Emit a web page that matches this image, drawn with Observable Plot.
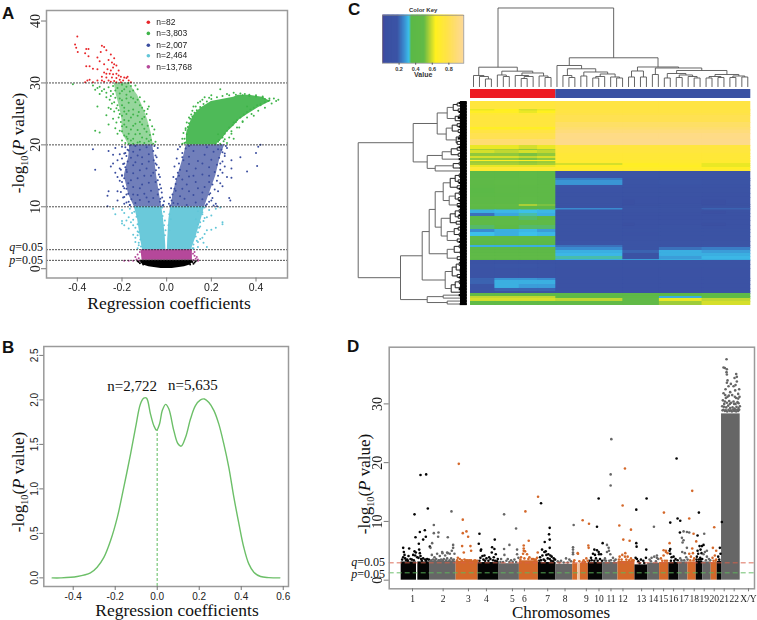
<!DOCTYPE html>
<html><head><meta charset="utf-8">
<script src="https://cdn.jsdelivr.net/npm/d3@7"></script>
<script src="https://cdn.jsdelivr.net/npm/@observablehq/plot@0.6"></script>
<style>
html,body{margin:0;background:#fff}
#c{position:relative;width:757px;height:620px;overflow:hidden;background:#fff}
.t{position:absolute;white-space:nowrap;color:#111;line-height:1}
.s{font-family:"Liberation Serif",serif}
sub{font-size:.6em;line-height:0}
</style></head><body><div id="c"></div>
<script>
// ---------- Panel A values
const volcanoLegend = ["n=82","n=3,803","n=2,007","n=2,464","n=13,768"];
const volcanoColors = ["#e8262a","#3fb44a","#3a4d9f","#62c6d8","#b5489a"];
const legendY = [39.8,38,36.1,34.4,32.6];
const thresholds = [30,20,10,3.07,1.35];
const redPts = [[-.40,37.5],[-.41,36.2],[-.405,35.7],[-.398,35],[-.36,35.5],[-.35,35.5],[-.365,34.8],[-.35,34.3],[-.29,36],[-.28,35.8],[-.27,35.3],[-.295,35],[-.25,34.6],[-.31,34.1],[-.3,33.5],[-.235,34],[-.26,33.7],[-.245,33.3],[-.28,33],[-.235,33],[-.225,32.8],[-.36,32.7],[-.345,32.7],[-.265,32.2],[-.24,32.5],[-.215,32],[-.33,32.3],[-.31,32.2],[-.25,32],[-.225,31.5],[-.28,31.7],[-.27,31.5],[-.255,31.5],[-.24,31.4],[-.215,31.2],[-.29,31],[-.27,30.9],[-.245,30.9],[-.225,30.8],[-.205,31],[-.19,30.9],[-.18,30.8],[-.175,31],[-.31,30.4],[-.29,30.4],[-.26,30.4],[-.235,30.3],[-.21,30.5],[-.195,30.4],[-.17,30.4],[-.355,30.4],[-.345,30.5],[-.25,30.2],[-.225,30.1],[-.205,30.1],[-.16,30.1],[-.33,30.1],[-.365,30.1],[-.28,30.2]];
const greenLeftPts = [[-.42,29.8],[-.33,29.6],[-.31,29.2],[-.3,29.4],[-.32,28.9],[-.29,28.7],[-.3,28.2],[-.28,29],[-.27,28.4],[-.26,29.3],[-.25,28.7],[-.27,27.7],[-.255,27.3],[-.24,28.2],[-.23,27.6],[-.245,26.7],[-.22,26.4],[-.25,25.8],[-.235,25.4],[-.21,25],[-.26,26],[-.31,26.2],[-.27,24.8],[-.24,24.2],[-.225,23.6],[-.215,24.4],[-.32,22.3],[-.3,22],[-.26,23.3],[-.23,22.7],[-.21,22.3],[-.2,23],[-.19,21.5],[-.22,21.8],[-.2,20.7],[-.175,21],[-.185,20.3],[-.17,20.2],[-.08,26.2],[-.085,25.8],[-.09,25],[-.1,24.5],[-.06,21.7],[-.055,22.5],[-.065,23],[-.05,20.5],[-.06,20.2],[-.075,24],[-.11,26],[-.1,27],[-.13,29],[-.15,28.8],[-.17,30],[-.12,27.7],[-.14,29.6],[-.16,29.5],[-.2,29.7],[-.22,29.2],[-.19,29],[-.21,28.3],[-.18,28.1],[-.16,27.7],[-.2,27.2],[-.17,26.8],[-.14,26.9],[-.19,26],[-.15,25.7],[-.125,25.3],[-.18,25],[-.16,24.4],[-.11,24.2],[-.19,24],[-.14,23.4],[-.18,22.9],[-.16,22.5],[-.1,22.6],[-.12,21.8],[-.17,21.8],[-.15,21],[-.09,21],[-.13,20.4],
[-.24,29.5],[-.23,28.8],[-.25,27.9],[-.21,27.5],[-.235,26.9],[-.2,26.4],[-.225,25.9],[-.19,25.4],[-.215,25.6],[-.17,25.5],[-.2,24.7],[-.15,24.9],[-.13,24.7],[-.205,23.7],[-.17,23.9],[-.12,23.7],[-.19,23.3],[-.15,23.1],[-.11,23.3],[-.085,23.1],[-.2,22.2],[-.13,22.4],[-.09,22.1],[-.075,21.6],[-.18,21.3],[-.14,21.7],[-.11,21.2],[-.07,20.8],[-.16,20.7],[-.12,20.5],[-.15,20.2],[-.1,20.3],[-.08,20.6],[-.18,29.4],[-.15,27.5],[-.13,27.3],[-.18,27.5],[-.165,28.6],[-.2,28.7],[-.12,26.4],[-.1,25.5]];
const greenRightPts = [[.5,27.3],[.49,27.1],[.48,27.5],[.47,26.7],[.46,27.2],[.44,26],[.43,27.8],[.41,25.5],[.4,28],[.38,25],[.37,28.1],[.35,28.2],[.33,28.3],[.3,28.4],[.24,29],[.27,28.2],[.2,28],[.19,27.6],[.17,27.7],[.15,27],[.12,26.2],[.115,25.5],[.11,24.9],[.1,24.4],[.09,23.6],[.085,22.7],[.075,21.9],[.07,21],[.08,20.3],[.07,20.2],[.36,24.4],[.34,23.8],[.31,23.7],[.325,22.8],[.29,22.2],[.28,21.2],[.255,20.6],[.24,20.2],[.3,21],[.27,20.3],[.39,24.7],[.23,21.7],[.36,26.2],[.42,26.4],[.44,27.4],
[.22,20.2],[.235,20.8],[.25,21.2],[.26,21.8],[.27,22.3],[.28,22.8],[.295,23.2],[.3,23.6],[.315,24],[.33,24.4],[.345,24.9],[.36,25.3],[.375,25.7],[.39,26],[.405,26.4],[.42,26.6],[.44,26.9],[.455,27.1],[.23,20.5],[.26,20.9],[.29,21.8],[.315,22.8],[.34,23.7],[.085,20.4],[.08,21],[.09,21.7],[.085,22.4],[.095,22.9],[.1,23.5],[.105,24.2],[.115,24.6],[.125,25.2],[.135,25.6],[.15,26.1],[.165,26.6],[.18,27],[.2,27.4],[.225,27.7],[.25,27.9],[.28,28],[.31,28.1],[.34,28],[.37,27.9],[.4,27.8],[.43,27.6],[.46,27.5],[.13,26.2],[.14,26.8],[.16,27.3]];
const blueLeftPts = [[-.33,19.3],[-.32,16],[-.26,19],[-.24,18.4],[-.23,19.5],[-.24,17],[-.22,17.5],[-.21,18.5],[-.25,16.5],[-.23,15.5],[-.21,16.2],[-.2,15],[-.22,14.8],[-.2,14],[-.26,12.5],[-.265,11.8],[-.22,12.5],[-.19,13],[-.195,11.5],[-.22,11],[-.265,10.1],[-.18,12],[-.17,10.8],[-.165,10.3],[-.19,10.5],[-.2,19.7],[-.19,18.6],[-.19,17],[-.175,19.2],[-.18,16],[-.04,19.5],[-.045,18],[-.035,16.3],[-.03,14.8],[-.025,13],[-.02,11.5],[-.015,10.3],[-.05,17],[-.06,15.5],[-.05,14],[-.04,12],[-.03,10.8],[-.1,15],[-.14,17.2],[-.12,13],[-.09,11.5],[-.15,12],[-.11,18],
[-.165,10.3],[-.18,10.7],[-.158,11.2],[-.19,11.6],[-.172,12.1],[-.205,12.4],[-.18,12.9],[-.195,13.3],[-.172,13.8],[-.21,14.2],[-.19,14.6],[-.2,15.1],[-.178,15.6],[-.205,16],[-.185,16.4],[-.195,16.9],[-.175,17.3],[-.2,17.8],[-.18,18.2],[-.185,18.7],[-.17,19.1],[-.185,19.6],[-.165,19.9],[-.018,10.2],[-.012,10.9],[-.028,11.3],[-.022,12.3],[-.035,12.8],[-.03,13.6],[-.04,14.3],[-.035,15.2],[-.048,15.9],[-.045,16.8],[-.058,17.5],[-.05,18.3],[-.06,19],[-.055,19.8],
[-.14,10.6],[-.12,11.1],[-.08,10.8],[-.06,11.4],[-.13,11.9],[-.1,12.1],[-.07,12.6],[-.15,13.2],[-.11,13.6],[-.08,13.9],[-.16,14.3],[-.13,14.6],[-.07,15],[-.15,15.4],[-.12,15.9],[-.09,16.2],[-.15,16.7],[-.11,16.9],[-.08,17.3],[-.16,17.9],[-.13,18.3],[-.08,18.5],[-.15,18.9],[-.12,19.2],[-.09,19.6],[-.14,19.8]];
const blueRightPts = [[.42,20],[.41,19.7],[.4,18.7],[.405,16.6],[.36,15.7],[.33,18],[.29,17.5],[.29,16.2],[.29,14.7],[.27,14.8],[.28,11.4],[.285,11],[.27,19.5],[.26,18.2],[.26,16.5],[.25,15.5],[.24,13.8],[.23,12.5],[.22,10.5],[.21,10.2],[.225,10.1],[.2,11],[.23,19.3],[.25,18.8],[.24,17],[.25,13.3],[.19,12],[.18,10.4],[.05,19.3],[.06,19.7],[.045,17.8],[.035,16.5],[.03,14.8],[.02,13],[.015,11.5],[.01,10.5],[.05,15.5],[.04,12.6],[.03,10.6],[.07,18],[.12,15],[.16,17],[.1,12.5],[.14,13],[.19,15],[.08,11.3],
[.175,10.2],[.19,10.8],[.205,11.4],[.195,12.2],[.215,12.8],[.205,13.6],[.225,14.2],[.23,15],[.215,15.6],[.24,16],[.225,16.8],[.25,17.3],[.235,17.9],[.26,18.6],[.245,19.2],[.265,19.8],[.016,10.2],[.022,11],[.026,12],[.035,12.9],[.04,13.7],[.042,14.5],[.055,15],[.06,16],[.055,17],[.075,17.5],[.07,18.7],[.085,19.4],
[.05,10.5],[.09,10.3],[.13,10.7],[.16,11.2],[.06,11.7],[.12,11.9],[.16,12.3],[.07,12.9],[.17,13.2],[.09,13.6],[.13,14],[.19,14],[.07,14.4],[.1,14.9],[.16,15.2],[.09,15.8],[.13,16.2],[.19,16.4],[.1,16.9],[.14,17.4],[.2,17.6],[.1,18.1],[.17,18.4],[.21,18.9],[.12,19],[.18,19.6],[.1,19.8]];
const cyanPts = [[-.24,9.7],[-.23,8.8],[-.2,9.5],[-.19,9],[-.2,7.7],[-.2,7.3],[-.19,7],[-.18,7.8],[-.17,8.3],[-.17,6.5],[-.16,7.5],[-.15,7],[-.15,5.5],[-.14,5],[-.14,4.3],[-.13,6],[-.125,3.8],[-.13,8.5],[-.145,9.2],[-.13,3.3],[-.165,9.7],[.19,9.5],[.2,8.6],[.18,8.3],[.165,7.7],[.22,9.7],[.24,9.9],[.25,7.5],[.25,7.2],[.22,6.6],[.2,6.3],[.18,6.2],[.17,5.6],[.16,5],[.15,4.8],[.14,4.3],[.14,3.5],[.18,3.5],[.165,4.2],[.15,6.8],[.14,7.2],[.13,8],[.16,8.8],[.14,9.3],[.12,3.3],
[-.14,9.9],[-.155,9],[-.135,8.4],[-.15,7.9],[-.13,7.2],[-.14,6.6],[-.125,5.9],[-.13,5.4],[-.118,4.7],[-.125,4.2],[-.115,3.6],[-.02,9.9],[-.012,9.2],[-.018,8.5],[-.008,7.8],[-.012,7],[-.005,6.2],[-.008,5.4],[.02,9.7],[.012,8.8],[.018,8],[.008,7],[.012,6.2],[.17,9.9],[.16,9.1],[.17,8.2],[.15,7.5],[.145,6.6],[.14,5.9],[.13,5.2],[.135,4.5],[.12,3.9],[.115,3.3]];
const magentaPts = [[-.19,1.3],[-.17,1.3],[-.15,1.3],[-.14,1.9],[-.135,1.5],[-.13,2.3],[-.125,1.7],[-.12,2.7],[-.125,1.3],[.125,2.7],[.125,2.1],[.13,1.6],[.135,1.9],[.14,1.5],[.14,1.3],[.12,1.4],[.118,2.4]];
const blackPts = [[-.125,1.1],[-.12,.9],[-.11,1.05],[-.105,.7],[.125,1],[.12,.8],[.115,1.1],[.105,.7],[.13,1.2],[-.13,1.2]];
const greenLeftBand = [[20,-.17,-.06],[22,-.2,-.07],[24,-.2,-.085],[26,-.21,-.105],[28,-.225,-.13],[30,-.235,-.17]];
const greenRightBand = [[20,.09,.22],[21,.088,.25],[22,.09,.27],[23,.1,.3],[24,.11,.325],[25,.125,.365],[26,.155,.41],[27,.2,.465],[27.7,.3,.43],[28,.32,.37]];
const blueLeftBand = [[10,-.145,-.022],[12,-.17,-.032],[15,-.19,-.045],[18,-.17,-.055],[20,-.165,-.062]];
const blueRightBand = [[10,.02,.17],[12,.028,.19],[15,.05,.22],[18,.075,.24],[20,.088,.26]];
const cyanLeftBand = [[3,-.108,-.003],[5,-.118,-.006],[8,-.13,-.014],[10,-.145,-.022]];
const cyanRightBand = [[3,.003,.11],[5,.005,.13],[8,.01,.155],[10,.018,.17]];
const magentaBand = [[1.35,-.11,.115],[3.07,-.115,.115]];
const blackBand = [[.05,-.025,.025],[.3,-.08,.08],[.6,-.105,.105],[.95,-.115,.115],[1.35,-.12,.12]];
// ---------- Panel B values
const densityX = [-.5,-.46,-.381,-.318,-.286,-.254,-.222,-.19,-.159,-.127,-.103,-.08,-.064,-.051,-.032,-.016,-.003,.011,.024,.04,.055,.079,.098,.114,.135,.159,.182,.206,.225,.246,.27,.293,.317,.341,.365,.389,.412,.436,.46,.492,.531,.584];
const densityY = [0,0,.015,.056,.12,.23,.42,.68,1.02,1.39,1.69,1.955,2.02,2.02,1.84,1.71,1.66,1.73,1.88,1.95,1.9,1.655,1.51,1.48,1.58,1.79,1.935,2,2.01,1.97,1.88,1.73,1.505,1.24,.905,.607,.344,.157,.063,.015,.003,0];
// ---------- Panel C values
const colEdges = [0,4,8,11,14,25,31,38,46];
const rowStarts = [0,8,9.5,12,14,21,26,28.5,32,38,44,48,49,52,55,57,59,60,62,64,66,68,70,77,79,84,87,92,96,103,105,107,108.5,112,115,119,124,128,131,135,140,144,146,149,152,155,158,159,163,167,177,179,183,187,190,192,195,197,200,204];
const heatValues = [
[.74,.74,.74,.74,.76,.76,.76,.76],[.62,.64,.6,.62,.76,.76,.76,.76],[.66,.66,.62,.64,.76,.76,.76,.76],[.72,.72,.72,.72,.78,.78,.78,.78],[.74,.74,.74,.74,.8,.8,.8,.8],[.74,.74,.74,.74,.85,.85,.85,.85],[.66,.66,.66,.66,.87,.87,.87,.87],[.76,.76,.76,.76,.9,.9,.9,.9],[.8,.8,.8,.8,.93,.93,.93,.93],[.88,.88,.88,.88,.94,.94,.94,.94],
[.62,.62,.6,.62,.74,.74,.74,.74],[.56,.56,.54,.56,.74,.74,.74,.74],[.6,.58,.6,.58,.74,.74,.74,.74],[.54,.54,.52,.54,.72,.72,.72,.72],[.6,.6,.58,.6,.72,.72,.72,.72],[.54,.54,.52,.54,.72,.72,.72,.72],[.66,.66,.66,.66,.7,.7,.7,.7],[.55,.55,.54,.55,.7,.7,.7,.7],[.56,.56,.55,.56,.6,.66,.68,.62],[.62,.62,.62,.62,.66,.66,.66,.62],[.72,.72,.72,.72,.68,.68,.68,.66],[.7,.7,.7,.7,.7,.7,.7,.7],
[.42,.42,.44,.42,.14,.14,.12,.12],[.43,.44,.44,.43,.24,.14,.14,.13],[.42,.43,.44,.42,.27,.16,.17,.16],[.4,.42,.42,.42,.17,.13,.13,.13],[.35,.42,.42,.42,.13,.11,.11,.11],[.36,.4,.42,.42,.12,.11,.11,.1],[.42,.42,.43,.42,.11,.1,.1,.1],[.46,.5,.56,.52,.13,.08,.12,.08],[.42,.43,.42,.42,.12,.11,.11,.11],[.42,.4,.42,.42,.26,.14,.14,.2],[.3,.31,.32,.31,.11,.11,.11,.11],[.22,.29,.33,.3,.11,.1,.1,.1],[.35,.4,.34,.36,.11,.1,.1,.1],[.43,.43,.43,.43,.11,.1,.1,.1],[.34,.38,.34,.34,.11,.1,.11,.1],[.26,.3,.31,.28,.11,.11,.11,.11],[.32,.3,.32,.31,.11,.1,.11,.11],[.43,.43,.43,.43,.12,.11,.11,.11],[.37,.37,.37,.37,.18,.14,.14,.14],[.3,.3,.3,.3,.22,.14,.16,.18],[.38,.38,.38,.38,.26,.16,.22,.24],[.41,.41,.41,.41,.3,.2,.3,.28],[.43,.43,.43,.43,.31,.12,.3,.3],[.46,.46,.46,.46,.33,.12,.28,.31],[.36,.36,.36,.36,.3,.28,.3,.3],
[.12,.12,.12,.12,.11,.11,.11,.11],[.16,.18,.17,.16,.11,.11,.11,.11],[.13,.13,.13,.13,.1,.1,.1,.1],[.2,.27,.27,.26,.1,.1,.1,.1],[.2,.3,.3,.3,.1,.1,.1,.1],[.17,.3,.28,.28,.1,.1,.1,.1],[.17,.2,.2,.2,.1,.1,.1,.1],[.12,.12,.12,.12,.1,.1,.1,.1],
[.47,.47,.47,.47,.44,.42,.36,.44],[.58,.58,.58,.58,.42,.44,.3,.44],[.6,.6,.6,.6,.58,.5,.62,.58],[.45,.45,.45,.45,.5,.47,.55,.6]];
const purplePatches = [[25,27,99,104],[38,42,99,104],[25,27,122,125],[38,42,110,113],[38,42,122,125]];
const keyStops = [0,.03,.18,.26,.32,.345,.5,.57,.64,.78,.98];
const keyColors = ["#4c4299","#3b50a2","#3b55a6","#3a8cd0","#3cc0ea","#5bb947","#62ba47","#b5d334","#fff01f","#ffe24a","#fdd89a"];
const keyTicks = [.2,.4,.6,.8];
const sampleGroups = [[0,14,"#ed1c24"],[14,46,"#3a51a3"]];
// dendrograms: a node is [height, child, child]; a number is a leaf's own height
const colTree = [79,
 [19.8,[11.5,0,[10.5,0,[8,0,0]]],
   [15.8,[12,0,[10.5,0,0]],[14,[11.5,0,[10.5,[8.5,0,0],0]],[11,0,[9.5,0,0]]]]],
 [29.2,
   [21.5,0,[18.2,[11.5,0,[9.5,0,0]],[15,[11,0,0],[13,[10.5,[9,0,0],0],[10,0,[9,0,0]]]]]],
   [20,[16,[10,0,0],[10,0,0]],
     [19,[12.5,0,0],[16.5,[13.5,[9,0,0],[12,[9.5,0,0],[10.5,0,[9,0,0]]]],[12.5,[10.5,[9,0,0],[9.5,0,0]],[11,[9.5,0,0],[10,0,0]]]]]]]];
const rowTree = [109,
 [54,
  [30,[20,[14,[10,8,7],[9,6,8]],[12,[8,6,9],7]],[21,[15,[10,7,8],[9,6,7]],[11,[8,7,9],[10,6,5]]]],
  [40,[25,[16,[10,8,6],[9,7,5]],8],[32,[14,[8,6,5],7],4]]],
 [66.7,
  [45,
   [38,
    [32,[24,[17,[12,[8,6,7],[9,5,8]],[10,6,8]],[18,[12,[8,7,5],[9,6,8]],[10,7,9]]],
        [26,[17,[12,[8,6,7],[9,8,5]],[11,7,6]],[20,[13,[9,7,6],[8,5,7]],[10,6,8]]]],
    [20,[13,[8,6,5],[7,4,6]],[10,5,7]]],
   [22,[15,[11,[8,7,6],[7,5,7]],[10,6,8]],[16,[12,[8,6,7],[7,5,8]],7]]],
  [40,[24,8,5],[20,6,7]]]];
// ---------- Panel D values (position = genome position along the axis)
const chrBlocks = [[0,46,3.1,"k"],[50,85,3.1,"k"],[85,165,3.2,"g"],[165,231,3.2,"o"],[231,294,3,"k"],[294,355,2.8,"g"],[355,412,3.3,"o"],[412,465,3,"k"],[465,515,2.7,"g"],[515,530,2.8,"o"],[530,538,2.8,"p"],[538,562,2.9,"o"],[562,606,3,"k"],[606,651,3,"g"],[651,702,3.2,"o"],[702,740,2.6,"k"],[740,776,2.9,"g"],[776,804,3,"o"],[804,834,3,"k"],[834,861,3.1,"g"],[861,886,3.1,"o"],[886,906,3.2,"k"],[906,931,3.1,"g"],[931,949,3,"o"],[949,962,3.2,"k"],[962,1018,28.3,"g"]];
const chrFill = {k:"#050505",g:"#666666",o:"#d4682a",p:"#efc3a5"};
const chrTicks = [34,126,202,256,334,370,440,492,556,594,630,666,722,758,788,818,849,880,910,940,970,1000,1043];
const chrNames = ["1","2","3","4","5","6","7","8","9","10","11","12","13","14","15","16","17","18","19","20","21","22","X/Y"];
const blackHits = [[40,11.2],[58,17.9],[75,18],[80,12.2],[43,7.3],[56,8.2],[71,8.5],[74,7.4],[66,6.9],[53,6.2],[86,5.7],[235,7.9],[233,6.2],[281,6.9],[273,5.6],[240,5.2],[280,5.3],[420,13.1],[446,8.9],[444,7.8],[431,6.5],[446,6.9],[423,5.2],[446,5.5],[593,13.9],[588,9.1],[605,6.3],[580,5.2],[593,4.8],[706,12],[737,13.9],[706,6.3],[707,5.7],[736,5.2],[827,20.7],[808,9.8],[830,10.5],[838,10.1],[837,8.1],[808,5.3],[894,11.5],[890,7.6],[908,6],[903,5.8],[963,9.9],[957,5.5],
[6,5.5],[24,5.4],[8,4.8],[10,4.3],[6,3.9],[12,3.7],[18,3.5],[22,4.1],[28,3.6],[32,3.5],[40,4.9],[44,4.7],[42,4.2],[36,4.3],[54,5.2],[56,4.6],[58,4.1],[52,3.8],[60,3.6],[66,3.7],[72,3.5],[78,3.6],[83,3.5],[3,3.5],[15,3.4],[238,3.8],[244,4.1],[250,4.2],[256,3.7],[264,3.9],[272,4.7],[278,3.9],[284,4.4],[290,3.6],[247,3.5],[268,3.6],[276,3.4],[239,5],[417,3.9],[424,4.2],[430,4.8],[436,4.3],[442,4.4],[448,4.2],[452,4],[458,3.7],[462,3.5],[428,3.5],[440,3.7],[446,3.6],[434,4.9],[420,3.4],[570,3.8],[576,4.5],[582,4.3],[588,5.1],[594,4.4],[600,4.4],[572,3.4],[585,3.7],[597,3.6],[708,3.6],[712,3.2],[720,3.5],[727,3.3],[735,3.8],[704,3.8],[808,4.5],[812,3.9],[818,4],[824,3.6],[830,3.4],[806,5],[890,5],[892,4.5],[896,5.8],[899,5.2],[902,4.6],[888,4],[898,3.8],[904,3.6],[952,4],[955,3.5],[959,4.5],
[20,3.3],[38,3.4],[48,3.9],[62,3.3],[75,3.3],[235,3.3],[252,3.3],[262,3.3],[282,3.3],[288,3.2],[415,3.3],[432,3.3],[450,3.3],[456,3.2],[565,3.3],[580,3.3],[590,3.3],[603,3.3],[716,2.9],[730,2.9],[810,3.3],[820,3.3],[887,3.5],[894,3.5],[900,3.5]];
const grayHits = [[98,9.4],[151,11.7],[98,8],[112,8.1],[111,7.4],[140,7.3],[93,6.3],[88,5.5],[156,6],[156,5.5],[123,4.8],[138,4.7],[309,11.2],[345,8.8],[325,6],[309,5.3],[348,5.2],[518,9.4],[516,5.6],[516,5.2],[631,24],[629,18],[629,16.1],[618,6],[623,5.5],[759,9.1],[768,4.2],[848,8.3],[858,8.2],[865,8.1],[843,7.2],[848,6.8],[845,6.4],[858,5.5],[910,7.9],[918,5],
[92,4.3],[100,3.9],[108,4.5],[116,4.1],[124,4.6],[132,4.2],[140,4.6],[146,4.5],[152,5],[160,4.5],[96,3.5],[112,3.4],[128,3.6],[138,3.7],[150,3.7],[158,3.5],[105,3.6],[120,3.5],[300,3.6],[310,4.3],[320,3.6],[330,3.4],[340,3.5],[348,4.4],[352,3.8],[316,3.3],[470,3.2],[480,3.3],[495,3.7],[505,3.5],[516,4.7],[516,4.4],[510,3.2],[612,3.7],[618,4.8],[624,5],[628,4.4],[636,3.8],[644,3.5],[610,3.4],[630,3.4],[746,3.5],[752,3.8],[760,4],[768,3.8],[772,3.6],[838,3.7],[844,4.8],[852,4.6],[856,3.9],[860,3.5],[912,4.8],[918,4],[924,3.6],[908,4.4],
[90,3.4],[102,3.4],[115,3.4],[125,3.4],[135,3.4],[145,3.4],[155,3.4],[298,3.1],[306,3.1],[325,3.1],[335,3.1],[345,3.1],[475,3],[488,3],[500,3],[615,3.3],[625,3.3],[640,3.3],[750,3.2],[765,3.2],[842,3.4],[850,3.4],[915,3.4],[928,3.4],
[977,37.6],[968,36.2],[972,36.1],[978,35.9],[977,35.4],[978,35],[1006,35.1],[1008,34.6],[1001,34.4],[980,34],[978,33.6],[1008,33.8],[1004,33.2],[983,33],[974,32.5],[998,33],[1015,32.5],[1003,32.3],[988,32],[973,31.5],[1012,31.7],[968,31.8],[980,31.2],[994,31.5],[1006,31],[1016,31.2],[966,30.6],[972,30.4],[985,30.5],[991,30.2],[998,30.4],[1004,30],[1010,30.3],[964,29.6],[969,29.5],[976,29.4],[982,29.7],[988,29.3],[995,29.4],[1001,29.2],[1007,29.5],[1013,29.3],[1017,29.6],[965,28.9],[972,28.8],[979,28.7],[986,28.8],[993,28.7],[1000,28.8],[1006,28.7],[1012,28.8],[968,29],[975,28.9],[983,29],[990,28.9],[997,29],[1003,29],[1009,29],[1015,29],[970,30],[978,30.2],[987,30],[1000,30],[1013,30.1],[975,31],[984,31.4],[990,33.4],[1002,31.2],[1012,30.9]];
const orangeHits = [[173,19.8],[185,10.3],[196,8.3],[185,8],[201,7.4],[183,5.8],[208,5.8],[210,5],[188,4.7],[373,11.7],[383,6.7],[368,5.9],[368,5.4],[368,5],[410,4.7],[411,14.2],[545,10.2],[564,9.6],[562,5.9],[563,5.5],[531,4.5],[672,19],[665,12.7],[655,9.3],[690,8.6],[667,6.9],[686,6.7],[673,4.6],[789,11.5],[806,6.3],[788,5.1],[795,4.8],[874,15.2],[865,10.5],[878,7.9],[886,6.6],[874,5.4],[940,9],[936,5.5],[946,5],
[170,3.8],[176,3.6],[190,3.5],[200,3.4],[210,3.4],[218,3.3],[228,3.3],[360,3.9],[366,4.5],[372,4.9],[378,4.4],[385,3.9],[392,3.6],[400,3.5],[408,3.8],[520,3.4],[530,4.6],[535,3.2],[548,3.4],[556,3.7],[560,3.3],[656,4],[664,4.3],[672,4],[680,4],[690,3.7],[698,3.4],[780,3.7],[788,4.2],[795,5],[800,4.6],[865,4.5],[870,4],[876,4.6],[880,3.7],[935,3.8],[942,4.2],[946,3.5],
[168,3.4],[182,3.4],[195,3.4],[205,3.4],[222,3.4],[358,3.5],[370,3.7],[382,3.6],[396,3.6],[404,3.5],[518,3.1],[545,3.1],[552,3.1],[654,3.5],[662,3.5],[676,3.5],[685,3.4],[694,3.4],[784,3.3],[792,3.3],[798,3.3],[868,3.4],[878,3.4],[938,3.3],[944,3.3]];

// ---------- helpers
const root = document.getElementById("c");
const SERIF = "Liberation Serif", SANS = "Liberation Sans";
const FRAME = "#9a9a9a";
function place(svg,left,top,extra){svg.style.cssText=`position:absolute;left:${left}px;top:${top}px;background:transparent;max-width:none;overflow:visible;${extra||""}`;root.appendChild(svg);}
function text(x,y,html,size,cls,extra){const d=document.createElement("div");d.className="t "+(cls||"");d.innerHTML=html;d.style.cssText+=`left:${x}px;top:${y}px;font-size:${size}px;${extra||""}`;root.appendChild(d);return d;}
const yTitle = '-log<sub>10</sub>(<i>P</i> value)';
function rotated(cx,cy,size){text(cx,cy,yTitle,size,"s","transform:translate(-50%,-50%) rotate(-90deg);");}
function band(rows,fill,opacity){return Plot.areaX(rows,{y:d=>d[0],x1:d=>d[1],x2:d=>d[2],fill,fillOpacity:opacity,curve:"linear"});}
function dots(pts,fill,r){return Plot.dot(pts,{x:d=>d[0],y:d=>d[1],r:r||1,fill,stroke:null});}
function layoutTree(tree){let i=0;const segs=[],leaves=[];
 (function walk(n){ if(typeof n==="number"){const pos=i+.5;i++;leaves.push({pos,h:n});return {pos,h:n};}
  const a=walk(n[1]),b=walk(n[2]),h=n[0],pos=(a.pos+b.pos)/2;
  segs.push({p1:a.pos,h1:a.h,p2:a.pos,h2:h,h},{p1:b.pos,h1:b.h,p2:b.pos,h2:h,h},{p1:a.pos,h1:h,p2:b.pos,h2:h,h});
  return {pos,h};})(tree);
 return {segs,leaves,n:i};}

// ---------- Panel A
const [cG,cB,cC,cM] = [volcanoColors[1],volcanoColors[2],volcanoColors[3],volcanoColors[4]];
place(Plot.plot({width:320,height:320,marginLeft:46,marginRight:33,marginTop:10,marginBottom:42.5,
 x:{domain:[-.538,.541]},y:{domain:[-1.5,41.7]},
 marks:[
  band(cyanLeftBand,cC,.95),band(cyanRightBand,cC,.95),
  band(blueLeftBand,cB,.72),band(blueRightBand,cB,.72),
  band(greenLeftBand,cG,.55),band(greenRightBand,cG,.92),
  band(magentaBand,cM,1),band(blackBand,"#000",1),
  dots(cyanPts,cC),dots(blueLeftPts,cB),dots(blueRightPts,cB),dots(greenLeftPts,cG),dots(greenRightPts,cG),dots(redPts,volcanoColors[0]),dots(magentaPts,cM),dots(blackPts,"#000"),
  Plot.ruleY(thresholds,{stroke:"#222",strokeWidth:.8,strokeDasharray:"2,1"}),
  Plot.frame({stroke:FRAME,strokeWidth:1.5}),
  Plot.axisX({ticks:[-.4,-.2,0,.2,.4],tickFormat:d=>d.toFixed(1),tickSize:4,stroke:"#777",fill:"#222",fontSize:10.5,fontFamily:SANS,label:null,tickPadding:2}),
  Plot.axisY({ticks:[0,10,20,30,40],tickRotate:-90,tickSize:5,stroke:"#777",fill:"#222",fontSize:14,fontFamily:SERIF,label:null,tickPadding:2}),
  Plot.dot(volcanoLegend,{x:-.082,y:(d,i)=>legendY[i],r:1.8,fill:(d,i)=>volcanoColors[i],stroke:null}),
  Plot.text(volcanoLegend,{x:-.082,y:(d,i)=>legendY[i],text:d=>d,dx:8,textAnchor:"start",fontSize:8.5,fontFamily:SANS,fill:"#222"})
 ]}),0,0,"filter:blur(.3px);");
// ---------- Panel B
const density = densityX.map((x,i)=>({x,y:densityY[i]}));
place(Plot.plot({width:320,height:300,marginLeft:43.3,marginRight:32,marginTop:26,marginBottom:34,
 x:{domain:[-.54,.625]},y:{domain:[-.097,2.6]},
 marks:[
  Plot.ruleX([0],{y1:-.097,y2:1.66,stroke:"#93d293",strokeWidth:1.5,strokeDasharray:"3,2"}),
  Plot.line(density,{x:"x",y:"y",stroke:"#6cbf68",strokeWidth:1.4,curve:"catmull-rom"}),
  Plot.text(["n=2,722"],{x:-.119,y:2.15,fontSize:15,fontFamily:SERIF,fill:"#111"}),
  Plot.text(["n=5,635"],{x:.17,y:2.17,fontSize:15,fontFamily:SERIF,fill:"#111"}),
  Plot.frame({stroke:FRAME,strokeWidth:1.5}),
  Plot.axisX({ticks:[-.4,-.2,0,.2,.4,.6],tickFormat:d=>d.toFixed(1),tickSize:4,stroke:"#777",fill:"#222",fontSize:10,fontFamily:SANS,label:null,tickPadding:2}),
  Plot.axisY({ticks:[0,.5,1,1.5,2,2.5],tickFormat:d=>d.toFixed(1),tickRotate:-90,tickSize:4,stroke:"#777",fill:"#222",fontSize:10,fontFamily:SANS,label:null,tickPadding:2})
 ]}),0,320);
// ---------- Panel C
const colorScale = {type:"linear",domain:keyStops,range:keyColors};
const key = d3.range(0,.98,.01);
place(Plot.plot({width:105,height:82,marginLeft:12,marginRight:11.7,marginTop:14.7,marginBottom:19.3,
 x:{domain:[0,.98]},y:{axis:null,domain:[0,1]},color:colorScale,
 marks:[
  Plot.rect(key,{x1:d=>d,x2:d=>Math.min(d+.025,.98),y1:0,y2:1,fill:d=>d}),
  Plot.frame({stroke:"#888",strokeWidth:.7}),
  Plot.axisX({ticks:keyTicks,tickFormat:d=>d.toFixed(1),tickSize:2,stroke:"#555",fill:"#333",fontSize:5.5,fontFamily:SANS,fontWeight:"bold",label:null,tickPadding:1.5}),
  Plot.text(["Color Key"],{frameAnchor:"top",dy:-7,fontSize:6,fontWeight:"bold",fontFamily:SANS,fill:"#333"}),
  Plot.text(["Value"],{frameAnchor:"bottom",dy:13.5,fontSize:7,fontWeight:"bold",fontFamily:SANS,fill:"#333"})
 ]}),370,0);
const heatCells = rowStarts.slice(0,-1).flatMap((s,r)=>colEdges.slice(0,-1).map((c,k)=>({x1:c,x2:Math.min(colEdges[k+1]+.3,46),y1:s,y2:Math.min(rowStarts[r+1]+.8,204),v:heatValues[r][k]})));
const patches = purplePatches.map(p=>({x1:p[0],x2:p[1],y1:p[2],y2:p[3],v:.03}));
place(Plot.plot({width:280.3,height:225,marginLeft:0,marginRight:0,marginTop:4,marginBottom:5,
 x:{domain:[0,46],axis:null},y:{domain:[-12,204],reverse:true,axis:null},color:colorScale,
 marks:[
  Plot.rect(sampleGroups,{x1:d=>d[0],x2:d=>d[1],y1:-12,y2:-3,fill:d=>d[2]}),
  Plot.rect(heatCells,{x1:"x1",x2:"x2",y1:"y1",y2:"y2",fill:"v"}),
  Plot.rect(patches,{x1:"x1",x2:"x2",y1:"y1",y2:"y2",fill:"v"})
 ]}),470,85,"filter:blur(.5px);");
const ct = layoutTree(colTree);
place(Plot.plot({width:280.3,height:88,marginLeft:0,marginRight:0,marginTop:7.5,marginBottom:1.5,
 x:{domain:[0,ct.n],axis:null},y:{domain:[0,79],axis:null},
 marks:[Plot.link(ct.segs,{x1:"p1",y1:"h1",x2:"p2",y2:"h2",stroke:"#555",strokeWidth:.9})]}),470,0);
const rt = layoutTree(rowTree);
place(Plot.plot({width:120,height:215,marginLeft:7.7,marginRight:3.3,marginTop:6,marginBottom:5,
 x:{domain:[109,0],axis:null},y:{domain:[0,rt.n],reverse:true,axis:null},
 marks:[
  Plot.link(rt.segs,{x1:"h1",y1:"p1",x2:"h2",y2:"p2",stroke:d=>d.h<18?"#222":"#666",strokeWidth:1}),
  Plot.ruleY(rt.leaves,{y:"pos",x1:0,x2:"h",stroke:"#000",strokeWidth:2.2}),
  Plot.rect([rt.n],{x1:0,x2:6.7,y1:0,y2:rt.n,fill:"#000"})
 ]}),350,95);
// ---------- Panel D
place(Plot.plot({width:417,height:290,marginLeft:48.7,marginRight:3,marginTop:16.7,marginBottom:31.7,
 x:{domain:[-36,1061]},y:{domain:[-1.47,39.65]},
 marks:[
  Plot.rect(chrBlocks,{x1:d=>d[0],x2:d=>d[1],y1:0,y2:d=>d[2],fill:d=>chrFill[d[3]]}),
  dots(blackHits,chrFill.k,1.3),dots(grayHits,chrFill.g,1.3),dots(orangeHits,chrFill.o,1.3),
  Plot.ruleY([2.95],{stroke:"#d8604a",strokeWidth:.9,strokeDasharray:"5,3"}),
  Plot.ruleY([1.25],{stroke:"#5cb85c",strokeWidth:.9,strokeDasharray:"5,3"}),
  Plot.frame({stroke:FRAME,strokeWidth:1.5}),
  Plot.axisX({ticks:chrTicks,tickFormat:d=>chrNames[chrTicks.indexOf(d)],tickSize:3,stroke:"#777",fill:"#222",fontSize:9.5,fontFamily:SERIF,label:null,tickPadding:3}),
  Plot.axisY({ticks:[0,10,20,30],tickRotate:-90,tickSize:5,stroke:"#777",fill:"#222",fontSize:14,fontFamily:SERIF,label:null,tickPadding:2})
 ]}),340,330,"filter:blur(.25px);");
// ---------- text set outside the SVGs
const letter = "font-family:'Liberation Sans';font-weight:bold;";
text(2,5,"A",17,"",letter); text(2,339,"B",17,"",letter); text(348,1,"C",17,"",letter); text(347,338,"D",17,"",letter);
rotated(18,143,17); rotated(18,482,17); rotated(364,484,17);
text(169,304,"Regression coefficients",17.5,"s","transform:translate(-50%,-50%);");
text(177,611,"Regression coefficients",17.5,"s","transform:translate(-50%,-50%);");
text(561,611.5,"Chromosomes",17,"s","transform:translate(-50%,-50%);");
text(43,247,"<i>q</i>=0.05",12,"s","transform:translate(-100%,-50%);");
text(43,260,"<i>p</i>=0.05",12,"s","transform:translate(-100%,-50%);");
text(385,562,"<i>q</i>=0.05",12,"s","transform:translate(-100%,-50%);");
text(385,574,"<i>p</i>=0.05",12,"s","transform:translate(-100%,-50%);");
</script></body></html>
